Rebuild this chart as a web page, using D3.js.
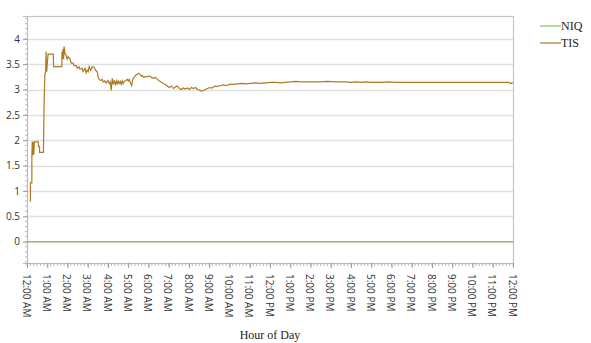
<!DOCTYPE html>
<html><head><meta charset="utf-8">
<script src="https://cdn.jsdelivr.net/npm/d3@7"></script>
<style>body{margin:0;background:#fff;} svg{display:block;}</style>
</head><body>
<svg id="chart" width="591" height="343"></svg>
<script>
// ---- data ----
const seriesNames = ["NIQ", "TIS"];
const xTickLabels = ["12:00 AM","1:00 AM","2:00 AM","3:00 AM","4:00 AM","5:00 AM","6:00 AM","7:00 AM","8:00 AM","9:00 AM","10:00 AM","11:00 AM","12:00 PM","1:00 PM","2:00 PM","3:00 PM","4:00 PM","5:00 PM","6:00 PM","7:00 PM","8:00 PM","9:00 PM","10:00 PM","11:00 PM","12:00 PM"];
const yTicks = [0, 0.5, 1, 1.5, 2, 2.5, 3, 3.5, 4];
const niqHours = [0, 24];
const niqValues = [0, 0];
const tisHours = [0.15,0.17,0.17,0.24,0.24,0.26,0.29,0.31,0.34,0.36,0.56,0.56,0.62,0.62,0.81,0.84,0.88,0.92,0.94,0.97,1.0,1.04,1.30,1.31,1.72,1.73,1.76,1.78,1.81,1.83,1.88,1.93,1.98,2.03,2.13,2.18,2.28,2.33,2.43,2.48,2.57,2.62,2.72,2.77,2.87,2.92,2.97,3.02,3.07,3.14,3.22,3.32,3.39,3.47,3.51,3.56,3.64,3.71,3.76,3.84,3.91,3.99,4.06,4.11,4.16,4.21,4.26,4.31,4.36,4.41,4.46,4.5,4.55,4.6,4.65,4.7,4.75,4.8,4.88,4.95,5.0,5.05,5.12,5.17,5.22,5.3,5.37,5.45,5.52,5.59,5.64,5.69,5.77,5.84,5.94,6.04,6.14,6.24,6.34,6.44,6.53,6.63,6.73,6.83,6.93,7.03,7.13,7.23,7.33,7.43,7.52,7.62,7.72,7.82,7.92,8.02,8.12,8.22,8.32,8.42,8.51,8.61,8.71,8.81,8.91,9.01,9.11,9.21,9.31,9.41,9.55,9.7,9.85,10.0,10.2,10.4,10.59,10.79,11.04,11.29,11.53,11.78,12.03,12.28,12.52,12.77,13.02,13.27,13.51,14.0,14.5,14.85,15.25,15.74,15.99,16.24,16.49,16.73,16.98,17.48,17.87,18.2,20,22,23.8,23.9,24];
const tisValues = [0.80,0.80,1.16,1.16,1.70,1.97,1.70,1.97,1.72,1.97,1.97,1.88,1.88,1.76,1.76,2.6,3.3,3.35,3.75,3.35,3.5,3.7,3.7,3.45,3.45,3.75,3.6,3.8,3.6,3.85,3.7,3.68,3.6,3.65,3.6,3.52,3.52,3.47,3.47,3.42,3.45,3.4,3.42,3.36,3.42,3.33,3.38,3.35,3.45,3.38,3.45,3.44,3.38,3.35,3.25,3.2,3.18,3.2,3.15,3.17,3.13,3.18,3.12,3.15,2.98,3.22,3.1,3.18,3.1,3.17,3.1,3.17,3.12,3.16,3.1,3.17,3.12,3.16,3.18,3.2,3.17,3.2,3.12,3.08,3.2,3.25,3.28,3.3,3.32,3.3,3.26,3.28,3.24,3.26,3.25,3.27,3.24,3.22,3.24,3.2,3.17,3.15,3.12,3.1,3.07,3.04,3.07,3.02,3.05,3.07,3.02,3.0,3.03,3.01,3.03,3.0,3.04,3.02,3.04,3.0,2.99,2.97,2.98,3.0,3.02,3.04,3.03,3.05,3.07,3.06,3.08,3.09,3.08,3.1,3.1,3.11,3.12,3.11,3.12,3.13,3.12,3.13,3.14,3.14,3.13,3.14,3.15,3.16,3.15,3.15,3.15,3.16,3.15,3.15,3.14,3.15,3.14,3.15,3.14,3.14,3.15,3.14,3.14,3.14,3.14,3.12,3.14];
const seriesColors = ["#86bf63", "#ad7a24"];

// ---- layout ----
const svg = d3.select("#chart");
const L = 27, R = 513, T = 16, B = 263;
const x = d3.scaleLinear().domain([0, 24]).range([L, R]);
const y = d3.scaleLinear().domain([-0.42, 4.45]).range([B, T]);

// gridlines
svg.append("g").selectAll("line").data(yTicks).join("line")
  .attr("x1", L).attr("x2", R)
  .attr("y1", d => Math.round(y(d)) + 0.5).attr("y2", d => Math.round(y(d)) + 0.5)
  .attr("stroke", "#e0e0e0").attr("stroke-width", 1.6);

// frame
svg.append("rect").attr("x", L + 0.5).attr("y", T + 0.5).attr("width", R - L).attr("height", B - T)
  .attr("fill", "none").attr("stroke", "#c4c4c4").attr("stroke-width", 1.2);

// y axis minor ticks
const yMinor = d3.range(-4, 45).map(i => i / 10);
svg.append("g").selectAll("line").data(yMinor).join("line")
  .attr("x1", L - 2).attr("x2", L)
  .attr("y1", d => y(d)).attr("y2", d => y(d))
  .attr("stroke", "#aaa").attr("stroke-width", 0.8);
const yAxis = d3.axisLeft(y).tickValues(yTicks).tickSize(4).tickPadding(3).tickFormat(d3.format("~g"));
const gy = svg.append("g").attr("transform", `translate(${L},0)`).call(yAxis);
gy.select(".domain").attr("stroke", "#bbb");
gy.selectAll(".tick line").attr("stroke", "#999");
gy.selectAll("text").attr("font-family", "'Open Sans', sans-serif").attr("font-size", 10).attr("fill", "#333");

// x axis minor ticks (every 10 min)
const xMinor = d3.range(0, 24 * 6 + 1).map(i => i / 6);
svg.append("g").selectAll("line").data(xMinor).join("line")
  .attr("x1", d => x(d)).attr("x2", d => x(d))
  .attr("y1", B + 1).attr("y2", B + 3)
  .attr("stroke", "#aaa").attr("stroke-width", 0.8);
const xAxis = d3.axisBottom(x).tickValues(d3.range(0, 25)).tickSize(5).tickFormat(i => xTickLabels[i]);
const gx = svg.append("g").attr("transform", `translate(0,${B})`).call(xAxis);
gx.select(".domain").attr("stroke", "#bbb");
gx.selectAll(".tick line").attr("stroke", "#999");
gx.selectAll("text")
  .attr("font-family", "'Open Sans', sans-serif").attr("font-size", 10).attr("fill", "#333")
  .attr("transform", "rotate(90)")
  .attr("text-anchor", "start")
  .attr("x", 11).attr("y", 0).attr("dy", "0.5em");

// lines
const line = d3.line().x(d => x(d[0])).y(d => y(d[1]));
const niqData = niqHours.map((h, i) => [h, niqValues[i]]);
const tisData = tisHours.map((h, i) => [h, tisValues[i]]);
svg.append("path").datum(niqData).attr("d", line).attr("fill", "none")
  .attr("stroke", seriesColors[0]).attr("stroke-width", 1.2);
svg.append("path").datum(tisData).attr("d", line).attr("fill", "none")
  .attr("stroke", seriesColors[1]).attr("stroke-width", 1.2);

// axis title
svg.append("text").attr("x", 270).attr("y", 339).attr("text-anchor", "middle")
  .attr("font-family", "'Liberation Serif', serif").attr("font-size", 12).attr("fill", "#222")
  .text("Hour of Day");

// legend
const lg = svg.append("g");
seriesNames.forEach((n, i) => {
  const yy = 26 + i * 17;
  lg.append("line").attr("x1", 540).attr("x2", 561).attr("y1", yy).attr("y2", yy)
    .attr("stroke", seriesColors[i]).attr("stroke-width", 1.2);
  lg.append("text").attr("x", 561).attr("y", yy).attr("dy", "0.35em")
    .attr("font-family", "'Liberation Serif', serif").attr("font-size", 12).attr("fill", "#222")
    .text(n);
});
</script>
</body></html>
